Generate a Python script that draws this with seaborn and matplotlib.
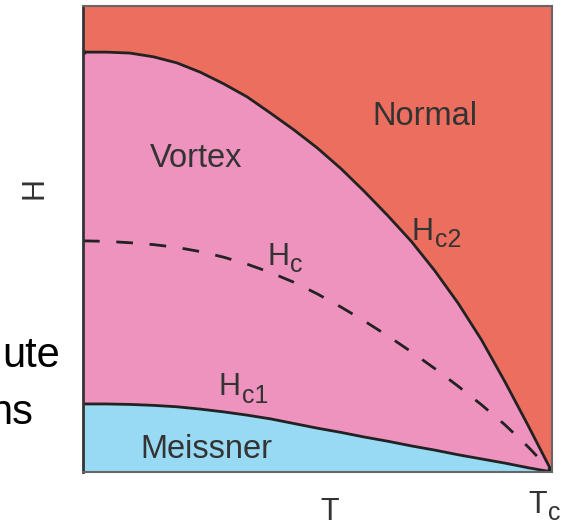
import numpy as np
import pandas as pd
import seaborn as sns
import matplotlib.pyplot as plt

# reduced temperature T/Tc and the critical fields
t = [0.0, 0.05, 0.1, 0.15, 0.2, 0.25, 0.3, 0.35, 0.4, 0.45, 0.5,
     0.55, 0.6, 0.65, 0.7, 0.75, 0.8, 0.85, 0.9, 0.95, 1.0]
hc2 = [0.901, 0.901, 0.899, 0.891, 0.878, 0.858, 0.833, 0.805, 0.770, 0.734, 0.695,
       0.651, 0.602, 0.550, 0.495, 0.432, 0.362, 0.283, 0.193, 0.098, 0.0]
hc = [0.496, 0.495, 0.492, 0.488, 0.482, 0.473, 0.461, 0.446, 0.428, 0.407, 0.382,
      0.354, 0.324, 0.292, 0.258, 0.222, 0.184, 0.144, 0.101, 0.053, 0.0]
hc1 = [0.146, 0.146, 0.145, 0.143, 0.140, 0.135, 0.129, 0.122, 0.114, 0.104, 0.094,
       0.085, 0.075, 0.066, 0.056, 0.047, 0.037, 0.028, 0.019, 0.009, 0.0]

region_names = ["Normal", "Vortex", "Meissner"]
region_colors = ["#ec6e5e", "#ee92be", "#98d9f3"]

df = pd.DataFrame({"T": t, "Hc2": hc2, "Hc": hc, "Hc1": hc1})

sns.set_style("white")
plt.rcParams["font.family"] = ["Liberation Sans", "DejaVu Sans"]

fig = plt.figure(figsize=(5.64, 5.28), dpi=100)
ax = fig.add_axes([83 / 564, 56 / 528, 469 / 564, 466 / 528])

# phase regions
ax.fill_between(df["T"], df["Hc2"], 1, color=region_colors[0], lw=0)
ax.fill_between(df["T"], df["Hc1"], df["Hc2"], color=region_colors[1], lw=0)
ax.fill_between(df["T"], 0, df["Hc1"], color=region_colors[2], lw=0)

# boundaries
sns.lineplot(data=df, x="T", y="Hc2", ax=ax, color="#222222", lw=2)
sns.lineplot(data=df, x="T", y="Hc1", ax=ax, color="#222222", lw=2)
sns.lineplot(data=df, x="T", y="Hc", ax=ax, color="#222222", lw=2)
ax.lines[-1].set_dashes([6, 6])
for ln in ax.lines:
    ln.set_solid_joinstyle("round")
ax.plot([0], [hc2[0]], "o", color="#222222", ms=3)

ax.set_xlim(0, 1)
ax.set_ylim(0, 1)
ax.set_xticks([])
ax.set_yticks([])
ax.set_xlabel("")
ax.set_ylabel("")
for s in ["top", "right", "bottom"]:
    ax.spines[s].set_color("#666666")
    ax.spines[s].set_linewidth(1.5)
ax.spines["left"].set_color("#333333")
ax.spines["left"].set_linewidth(2)

tc = "#333333"
fs = 23.5
hs = 22
ss = 18
ax.text(0.618, 0.745, region_names[0], color=tc, fontsize=fs, va="baseline")
ax.text(0.143, 0.654, region_names[1], color=tc, fontsize=fs, va="baseline")
ax.text(0.122, 0.030, region_names[2], color=tc, fontsize=fs, va="baseline")

# field labels with subscripts
ax.text(0.701, 0.498, "H", color=tc, fontsize=hs, va="baseline")
ax.text(0.751, 0.483, "c2", color=tc, fontsize=ss, va="baseline")
ax.text(0.394, 0.444, "H", color=tc, fontsize=hs, va="baseline")
ax.text(0.441, 0.429, "c", color=tc, fontsize=ss, va="baseline")
ax.text(0.288, 0.165, "H", color=tc, fontsize=hs, va="baseline")
ax.text(0.339, 0.148, "c1", color=tc, fontsize=ss, va="baseline")

fig.text(0.062, 0.644, "H", rotation=90, fontsize=hs, color=tc, ha="center", va="center")
fig.text(0.585, 0.03, "T", fontsize=hs, color=tc, ha="center", va="center")
fig.text(0.936, 0.028, "T", fontsize=hs, color=tc, ha="left", va="baseline")
fig.text(0.972, 0.015, "c", fontsize=ss, color=tc, ha="left", va="baseline")

# slide text cut off by the left edge
fig.text(0.106, 0.305, "ute", fontsize=30, color="black", ha="right", va="baseline")
fig.text(0.0585, 0.197, "ns", fontsize=30, color="black", ha="right", va="baseline")

fig.savefig("out.png", dpi=100)
